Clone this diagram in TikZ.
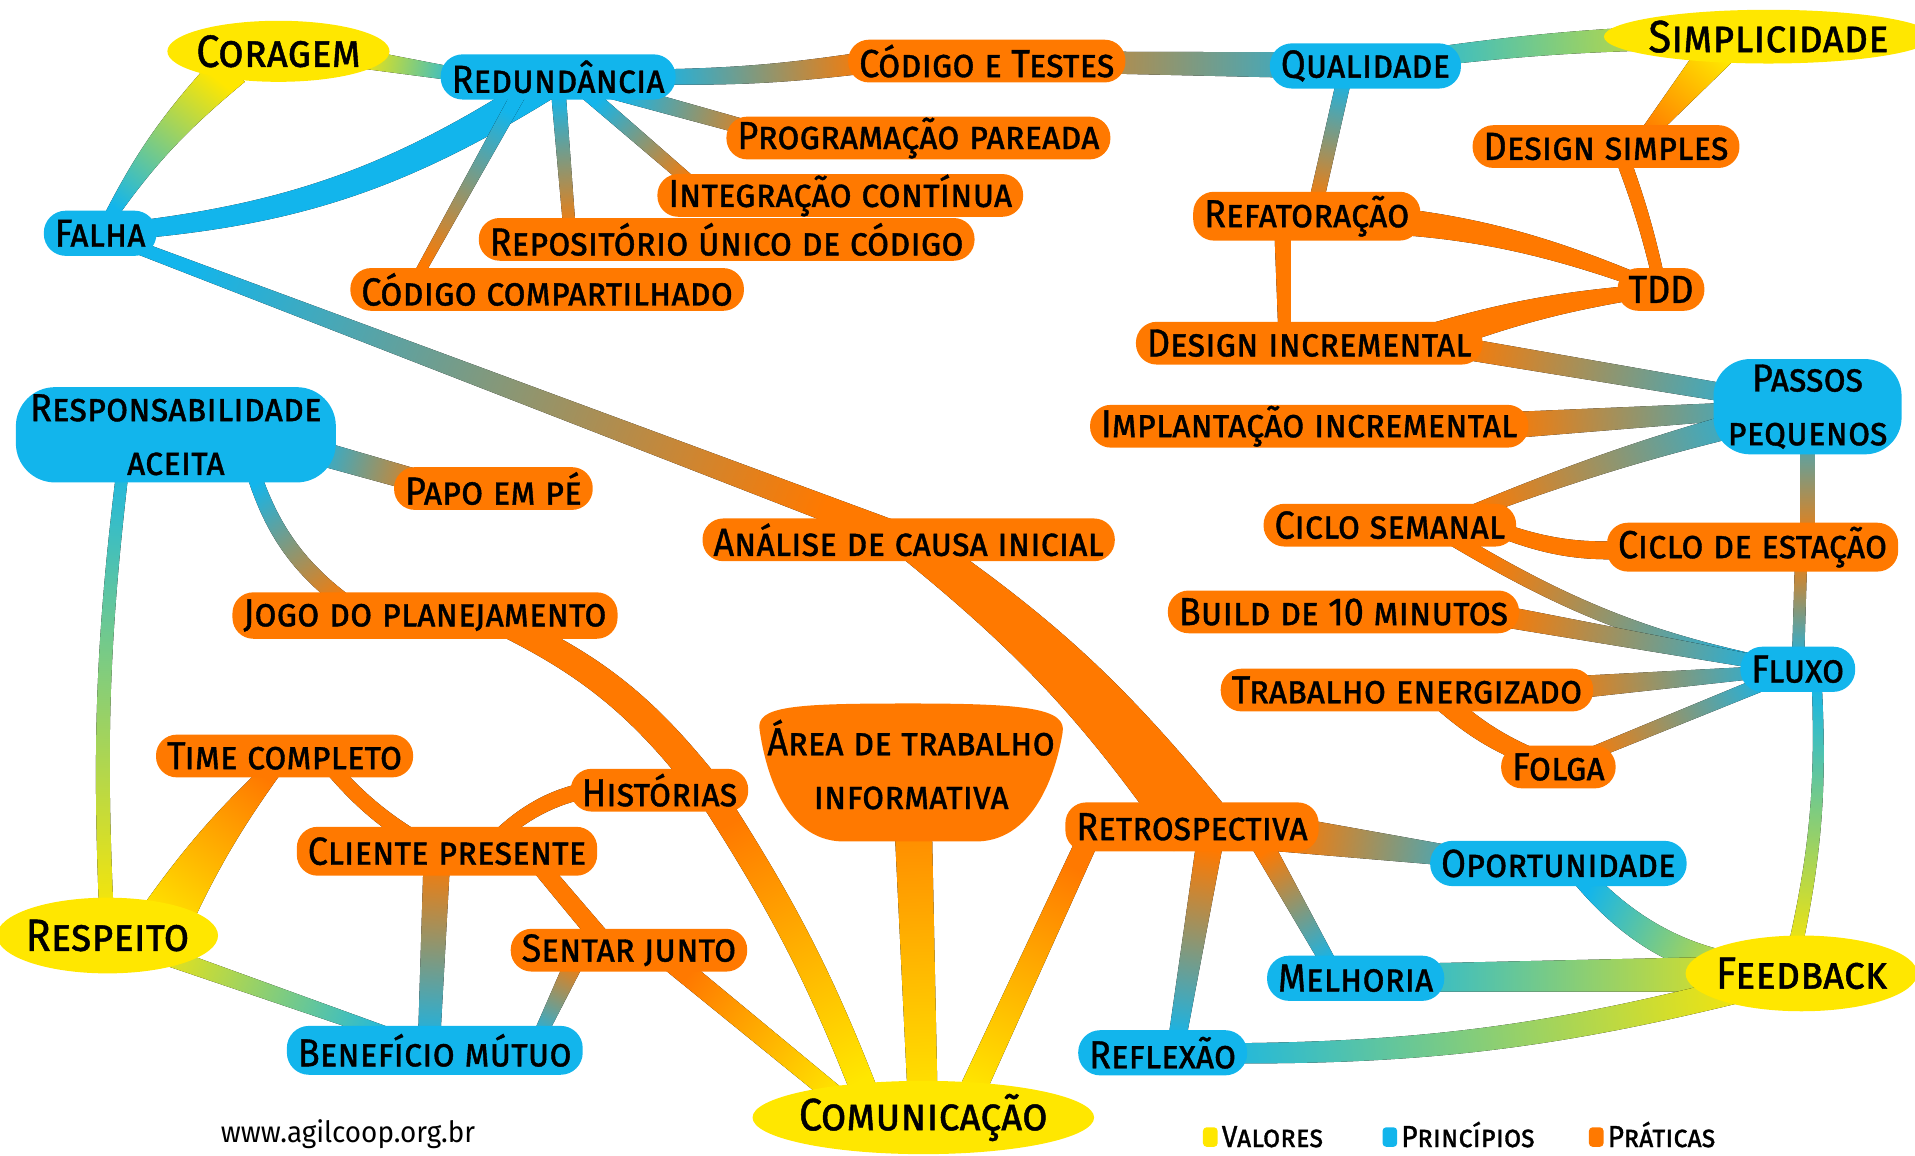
\documentclass[tikz,border=0pt]{standalone}
\usepackage{fontspec}
\newfontfamily\mapfont{Fira Sans}[FakeStretch=0.92, FakeBold=1]
\newfontfamily\sitefont{Fira Sans}[FakeStretch=0.95]
\usetikzlibrary{shapes.geometric,positioning,calc,backgrounds}

\definecolor{valcolor}{RGB}{255,231,0}
\definecolor{princolor}{RGB}{18,181,236}
\definecolor{pratcolor}{RGB}{255,121,0}

% tapered, shaded branch between two points
\newcommand{\branch}[7][0]{%
  \coordinate (b-start) at (#2);
  \coordinate (b-end) at (#3);
  \pgfmathanglebetweenpoints{\pgfpointanchor{b-start}{center}}{\pgfpointanchor{b-end}{center}}%
  \pgfmathsetmacro\branchshade{\pgfmathresult-90}%
  \fill[top color=#5, bottom color=#4, shading angle=\branchshade]
    ($(b-start)!#6*0.5pt!90:(b-end)$) to[bend left=#1] ($(b-end)!#7*0.5pt!-90:(b-start)$)
    -- ($(b-end)!#7*0.5pt!90:(b-start)$) to[bend right=#1] ($(b-start)!#6*0.5pt!-90:(b-end)$) -- cycle;
}

\tikzset{
  mapnode/.style={inner ysep=0pt, inner xsep=9pt, text=black, font=\mapfont\scshape\fontsize{32}{44}\selectfont},
  valor/.style={mapnode, ellipse, fill=valcolor, inner xsep=-3pt, minimum height=50pt, font=\mapfont\scshape\fontsize{37}{44}\selectfont},
  principio/.style={mapnode, rectangle, rounded corners=18pt, fill=princolor, minimum height=37pt},
  pratica/.style={mapnode, rectangle, rounded corners=17pt, fill=pratcolor, minimum height=35pt},
  legendkey/.style={rectangle, rounded corners=3pt, minimum width=12pt, minimum height=16pt, inner sep=0pt},
  legendlabel/.style={inner sep=0pt, anchor=base west, font=\mapfont\scshape\fontsize{25}{28}\selectfont},
}

\begin{document}
\begin{tikzpicture}[x=1pt,y=-1pt]
\useasboundingbox (0,0) rectangle (1568,946);

% Valores
\node[valor] (coragem) at (228,42) {Coragem};
\node[valor, minimum height=44pt] (simplicidade) at (1448,30) {Simplicidade};
\node[valor, minimum height=62pt] (respeito) at (88,766) {Respeito};
\node[valor, minimum height=60pt] (comunicacao) at (756,915) {Comunicação};
\node[valor, minimum height=62pt] (feedback) at (1475,797) {Feedback};

% Principios
\node[principio] (redundancia) at (457,63) {Redundância};
\node[principio] (qualidade) at (1118,54) {Qualidade};
\node[principio] (falha) at (82,191) {Falha};
\node[principio, rounded corners=32pt, align=center, minimum width=262pt, minimum height=78pt] (responsab) at (144,356) {Responsabilidade\\aceita};
\node[principio, rounded corners=30pt, align=center, minimum width=154pt, minimum height=78pt] (passos) at (1480,333) {Passos\\pequenos};
\node[principio] (fluxo) at (1472,548) {Fluxo};
\node[principio] (oportunidade) at (1276,707) {Oportunidade};
\node[principio] (melhoria) at (1110,801) {Melhoria};
\node[principio] (reflexao) at (952,862) {Reflexão};
\node[principio, minimum height=40pt] (beneficio) at (356,860) {Benefício mútuo};

% Praticas
\node[pratica] (codtestes) at (808,50) {Código e Testes};
\node[pratica] (pareada) at (752,113) {Programação pareada};
\node[pratica] (integracao) at (688,160) {Integração contínua};
\node[pratica] (repositorio) at (595,196) {Repositório único de código};
\node[pratica] (compartilhado) at (448,237) {Código compartilhado};
\node[pratica, minimum height=40pt] (refatoracao) at (1070,177) {Refatoração};
\node[pratica] (dsimples) at (1315,120) {Design simples};
\node[pratica] (tdd) at (1360,237) {TDD};
\node[pratica] (dincremental) at (1072,281) {Design incremental};
\node[pratica] (implantacao) at (1072,349) {Implantação incremental};
\node[pratica] (papo) at (404,400) {Papo em pé};
\node[pratica] (analise) at (744,442) {Análise de causa inicial};
\node[pratica] (csemanal) at (1138,430) {Ciclo semanal};
\node[pratica, minimum height=40pt] (cestacao) at (1435,448) {Ciclo de estação};
\node[pratica] (build) at (1100,501) {Build de 10 minutos};
\node[pratica, minimum height=38pt] (jogo) at (348,504) {Jogo do planejamento};
\node[pratica] (energizado) at (1152,565) {Trabalho energizado};
\node[pratica] (folga) at (1276,628) {Folga};
\node[pratica] (timecompleto) at (233,619) {Time completo};
\node[pratica] (historias) at (540,647) {Histórias};
\fill[pratcolor] (622,598) .. controls (618,578) and (650,576) .. (745,576)
  .. controls (840,576) and (874,580) .. (870,600)
  .. controls (866,625) and (850,688) .. (800,689) -- (690,689)
  .. controls (640,688) and (626,625) .. (622,598) -- cycle;
\node[mapnode, align=center, inner sep=0pt] (area) at (746,626) {Área de trabalho\\informativa};
\node[pratica, minimum height=40pt] (cliente) at (366,697) {Cliente presente};
\node[pratica, minimum height=40pt] (retro) at (976,677) {Retrospectiva};
\node[pratica] (sentar) at (515,778) {Sentar junto};

% legenda e site
\node[legendkey, fill=valcolor] (kval) at (991,931) {};
\node[legendlabel] (lval) at ($(kval.south east)+(3,0)$) {Valores};
\node[legendkey, fill=princolor] (kprin) at (1138,931) {};
\node[legendlabel] (lprin) at ($(kprin.south east)+(3,0)$) {Princípios};
\node[legendkey, fill=pratcolor] (kprat) at (1307,931) {};
\node[legendlabel] (lprat) at ($(kprat.south east)+(3,0)$) {Práticas};
\node[font=\sitefont\fontsize{24}{26}\selectfont, inner sep=0pt] (site) at (285,929) {www.agilcoop.org.br};

\begin{scope}[on background layer]
% ramos de cima
\branch[-8]{$(coragem)+(-40,15)$}{falha}{valcolor}{princolor}{32}{8}
\branch{$(coragem)+(60,5)$}{$(redundancia)+(-70,0)$}{valcolor}{princolor}{16}{10}
\branch[14]{redundancia}{falha}{princolor}{princolor}{26}{14}
\branch[-4]{$(redundancia)+(70,0)$}{$(codtestes)+(-90,0)$}{princolor}{pratcolor}{12}{18}
\branch{$(redundancia)+(40,10)$}{$(pareada)+(-110,0)$}{princolor}{pratcolor}{14}{12}
\branch{$(redundancia)+(20,10)$}{$(integracao)+(-110,0)$}{princolor}{pratcolor}{12}{10}
\branch{$(redundancia)+(0,10)$}{$(repositorio)+(-128,0)$}{princolor}{pratcolor}{12}{10}
\branch{$(redundancia)+(-30,10)$}{$(compartilhado)+(-112,0)$}{princolor}{pratcolor}{12}{8}
\branch{falha}{analise}{princolor}{pratcolor}{10}{22}
\branch{codtestes}{qualidade}{pratcolor}{princolor}{16}{22}
\branch[4]{qualidade}{simplicidade}{princolor}{valcolor}{14}{22}
\branch{$(qualidade)+(-15,0)$}{$(refatoracao)+(5,0)$}{princolor}{pratcolor}{12}{12}
\branch{$(simplicidade)+(-40,10)$}{$(dsimples)+(25,0)$}{valcolor}{pratcolor}{30}{10}
\branch[4]{$(dsimples)+(10,0)$}{tdd}{pratcolor}{pratcolor}{12}{10}
\branch[10]{refatoracao}{tdd}{pratcolor}{pratcolor}{26}{10}
\branch{$(refatoracao)+(-20,0)$}{$(dincremental)+(-20,0)$}{pratcolor}{pratcolor}{14}{10}
\branch[-6]{tdd}{$(dincremental)+(90,0)$}{pratcolor}{pratcolor}{10}{26}
% passos pequenos e fluxo
\branch{$(dincremental)+(100,0)$}{passos}{pratcolor}{princolor}{18}{14}
\branch{$(implantacao)+(150,0)$}{passos}{pratcolor}{princolor}{22}{12}
\branch[4]{$(csemanal)+(40,0)$}{passos}{pratcolor}{princolor}{10}{22}
\branch{passos}{$(cestacao)+(45,0)$}{princolor}{pratcolor}{12}{12}
\branch{$(cestacao)+(40,0)$}{fluxo}{pratcolor}{princolor}{10}{10}
\branch[-14]{$(csemanal)+(80,0)$}{$(cestacao)+(-80,0)$}{pratcolor}{pratcolor}{12}{16}
\branch[-10]{$(csemanal)+(50,10)$}{fluxo}{pratcolor}{princolor}{12}{10}
\branch{$(build)+(110,0)$}{fluxo}{pratcolor}{princolor}{18}{10}
\branch{$(energizado)+(110,0)$}{fluxo}{pratcolor}{princolor}{20}{8}
\branch[-12]{$(energizado)+(20,0)$}{folga}{pratcolor}{pratcolor}{18}{14}
\branch{folga}{fluxo}{pratcolor}{princolor}{10}{12}
\branch[8]{$(fluxo)+(15,0)$}{$(feedback)+(-10,0)$}{princolor}{valcolor}{8}{12}
% retrospectiva e feedback
\branch[8]{analise}{$(retro)+(5,0)$}{pratcolor}{pratcolor}{30}{56}
\branch{$(retro)+(70,5)$}{$(oportunidade)+(-40,0)$}{pratcolor}{princolor}{30}{12}
\branch[-25]{$(oportunidade)+(10,0)$}{feedback}{princolor}{valcolor}{18}{26}
\branch{melhoria}{feedback}{princolor}{valcolor}{22}{30}
\branch[-8]{reflexao}{feedback}{princolor}{valcolor}{16}{22}
\branch{$(retro)+(55,10)$}{$(melhoria)+(-15,0)$}{pratcolor}{princolor}{18}{12}
\branch{$(retro)+(15,10)$}{$(reflexao)+(10,0)$}{pratcolor}{princolor}{22}{14}
\branch{$(retro)+(-85,10)$}{$(comunicacao)+(30,0)$}{pratcolor}{valcolor}{18}{22}
% comunicacao e respeito
\branch{area}{comunicacao}{pratcolor}{valcolor}{32}{24}
\branch[14]{$(jogo)+(50,0)$}{$(historias)+(40,0)$}{pratcolor}{pratcolor}{20}{26}
\branch[6]{$(historias)+(40,0)$}{$(comunicacao)+(-40,0)$}{pratcolor}{valcolor}{22}{22}
\branch{$(sentar)+(30,5)$}{$(comunicacao)+(-50,0)$}{pratcolor}{valcolor}{18}{16}
\branch{$(cliente)+(70,5)$}{$(sentar)+(-15,0)$}{pratcolor}{pratcolor}{14}{16}
\branch{$(cliente)+(-8,0)$}{$(beneficio)+(-5,0)$}{pratcolor}{princolor}{22}{18}
\branch{$(sentar)+(-40,0)$}{$(beneficio)+(80,0)$}{pratcolor}{princolor}{16}{10}
\branch[28]{$(cliente)+(30,0)$}{historias}{pratcolor}{pratcolor}{12}{14}
\branch[-10]{$(timecompleto)+(30,0)$}{$(cliente)+(-10,0)$}{pratcolor}{pratcolor}{12}{14}
\branch[-6]{timecompleto}{$(respeito)+(40,0)$}{pratcolor}{valcolor}{12}{46}
\branch[-5]{$(responsab)+(-40,0)$}{respeito}{princolor}{valcolor}{10}{12}
\branch{$(responsab)+(100,10)$}{$(papo)+(-40,0)$}{princolor}{pratcolor}{20}{18}
\branch[-20]{$(responsab)+(60,20)$}{$(jogo)+(-50,0)$}{princolor}{pratcolor}{12}{14}
\branch{respeito}{beneficio}{valcolor}{princolor}{16}{10}
\end{scope}
\end{tikzpicture}
\end{document}
